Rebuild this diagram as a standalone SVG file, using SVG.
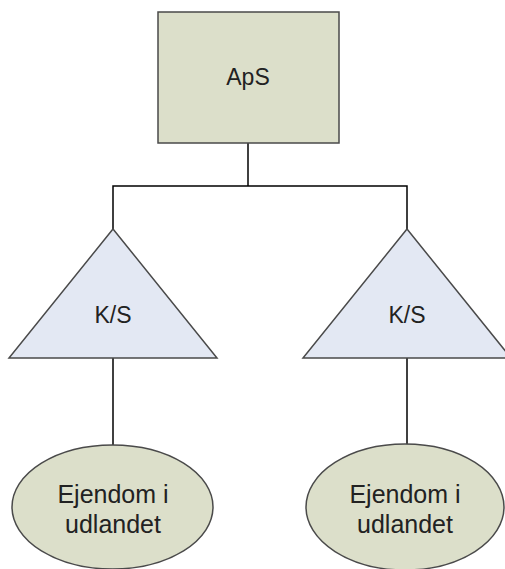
<svg xmlns="http://www.w3.org/2000/svg" width="505" height="569" viewBox="0 0 505 569">
  <style>
    .conn { stroke: #000; stroke-width: 1.5; fill: none; }
    .box { fill: #dcdfca; stroke: #4a4a4a; stroke-width: 1.5; }
    .tri { fill: #e3e8f3; stroke: #4a4a4a; stroke-width: 1.5; }
    .ell { fill: #dcdfca; stroke: #4a4a4a; stroke-width: 1.5; }
    .lbl { font-family: "Liberation Sans", Arial, sans-serif; font-size: 23px; fill: #222; text-anchor: middle; }
    .lbl2 { font-family: "Liberation Sans", Arial, sans-serif; font-size: 25px; fill: #222; text-anchor: middle; }
  </style>
  <rect width="505" height="569" fill="#fff"/>

  <!-- tree connectors -->
  <g id="connectors">
    <polyline class="conn" points="248,143 248,186"/>
    <polyline class="conn" points="113,229 113,186 407,186 407,229"/>
    <line class="conn" x1="113" y1="358" x2="113" y2="445"/>
    <line class="conn" x1="407" y1="358" x2="407" y2="444"/>
  </g>

  <g id="aps">
    <rect class="box" x="158" y="12" width="181" height="131"/>
    <text class="lbl" x="248" y="85">ApS</text>
  </g>

  <g id="ks-left">
    <polygon class="tri" points="113,229 217,358 9,358"/>
    <text class="lbl" x="113" y="323">K/S</text>
  </g>

  <g id="ks-right">
    <polygon class="tri" points="407,229 511,358 303,358"/>
    <text class="lbl" x="407" y="323">K/S</text>
  </g>

  <g id="ejendom-left">
    <ellipse class="ell" cx="112.5" cy="507" rx="100.5" ry="62"/>
    <text class="lbl2" x="113" y="503">Ejendom i</text>
    <text class="lbl2" x="113" y="533">udlandet</text>
  </g>

  <g id="ejendom-right">
    <ellipse class="ell" cx="405" cy="507" rx="99" ry="63"/>
    <text class="lbl2" x="405" y="503">Ejendom i</text>
    <text class="lbl2" x="405" y="533">udlandet</text>
  </g>
</svg>
